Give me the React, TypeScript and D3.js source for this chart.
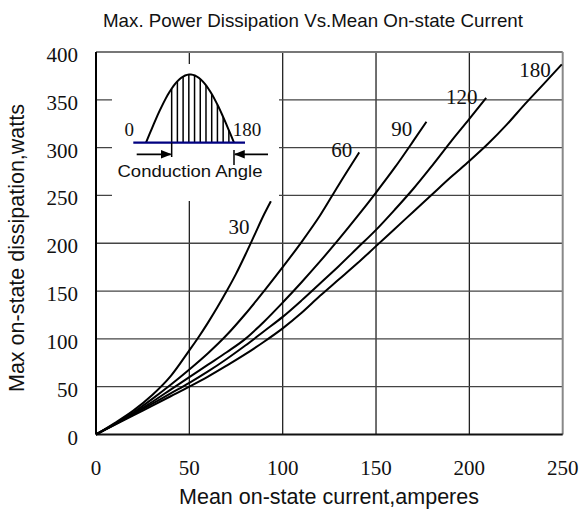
import React from "react";
import * as d3 from "d3";

const xTicks = [0, 50, 100, 150, 200, 250];
const yTicks = [0, 50, 100, 150, 200, 250, 300, 350, 400];

const seriesNames = ["30", "60", "90", "120", "180"];

const current30 = [0, 10, 20, 30, 40, 50, 55, 60, 65, 70, 75, 80, 85, 90, 93.7];
const power30 = [0, 12, 25, 41, 61, 88, 102, 117, 133, 150, 168, 188, 209, 230, 244];

const current60 = [0, 10, 20, 30, 40, 50, 60, 70, 80, 90, 100, 110, 120, 130, 141];
const power60 = [0, 11, 23, 37, 52, 68, 85, 104, 126, 150, 175, 201, 229, 261, 295];

const current90 = [0, 10, 20, 30, 40, 50, 60, 70, 80, 90, 100, 110, 120, 130, 140, 150, 160, 170, 177];
const power90 = [0, 10.5, 22, 34, 47, 60, 73, 86, 100, 118, 138, 159, 181, 204, 228, 253, 279, 307, 327];

const current120 = [0, 10, 20, 30, 40, 50, 60, 70, 80, 90, 100, 110, 120, 130, 140, 150, 160, 170, 180, 190, 200, 209];
const power120 = [0, 10.5, 21, 32, 43, 54, 66, 79, 93, 108, 123, 140, 158, 176, 195, 214, 235, 257, 281, 306, 330, 352];

const current180 = [0, 10, 20, 30, 40, 50, 60, 70, 80, 90, 100, 110, 120, 130, 140, 150, 160, 170, 180, 190, 200, 210, 220, 230, 240, 249.5];
const power180 = [0, 10, 20, 30, 40, 50, 60.5, 72, 84, 97, 111, 127, 145, 162, 179, 197, 215, 233, 251, 269, 286, 304, 324, 346, 367, 387];

// label centres in data units
const labelCurrent = [76.6, 131.6, 163.8, 195.9, 235.2];
const labelPower = [217, 298, 319, 353, 381];

// inset: half sine wave, angles in degrees
const waveAngles = d3.range(0, 181, 4);
const hatchAngles = [52.5, 64.2, 75.9, 87.6, 99.3, 111, 122.7, 134.4, 146.1, 157.8, 169.5];

const W = 580;
const H = 512;
const M = { left: 96, right: 17.3, top: 52, bottom: 77.5 };

export default function App() {
  const x = d3.scaleLinear().domain([0, 250]).range([M.left, W - M.right]);
  const y = d3.scaleLinear().domain([0, 400]).range([H - M.bottom, M.top]);

  const allX = [current30, current60, current90, current120, current180];
  const allY = [power30, power60, power90, power120, power180];
  const line = d3
    .line<[number, number]>()
    .x((d) => x(d[0]))
    .y((d) => y(d[1]))
    .curve(d3.curveMonotoneX);

  // inset scales
  const ax = d3.scaleLinear().domain([0, 180]).range([146, 234]);
  const ay = d3.scaleLinear().domain([0, 1]).range([142.7, 74.5]);
  const wave = d3
    .line<number>()
    .x((a) => ax(a))
    .y((a) => ay(Math.sin((a * Math.PI) / 180)));

  const serif = "'Liberation Serif', 'Times New Roman', serif";
  const sans = "'Liberation Sans', Arial, sans-serif";

  return (
    <svg width={W} height={H} style={{ position: "absolute", left: 0, top: 0, background: "#fff" }}>
      <defs>
        <marker id="arr" viewBox="0 0 10 10" refX="9" refY="5" markerWidth="6" markerHeight="6" orient="auto">
          <path d="M0,1 L10,5 L0,9 z" fill="#000" />
        </marker>
      </defs>
      <rect width={W} height={H} fill="#fff" />
      <text x={313} y={26.5} textAnchor="middle" fontFamily={sans} fontSize={19} textLength={420} lengthAdjust="spacingAndGlyphs" fill="#111">
        Max. Power Dissipation Vs.Mean On-state Current
      </text>

      {/* grid */}
      {xTicks.slice(1, -1).map((t) => (
        <line key={"gx" + t} x1={x(t)} x2={x(t)} y1={y(0)} y2={y(400)} stroke="#222" strokeWidth={1.3} />
      ))}
      {yTicks.slice(1, -1).map((t) => (
        <line key={"gy" + t} x1={x(0)} x2={x(250)} y1={y(t)} y2={y(t)} stroke="#444" strokeWidth={1.3} />
      ))}

      {/* frame */}
      <line x1={x(0)} x2={x(250)} y1={y(400)} y2={y(400)} stroke="#777" strokeWidth={2} />
      <line x1={x(250)} x2={x(250)} y1={y(0)} y2={y(400)} stroke="#888" strokeWidth={2} />
      <line x1={x(0)} x2={x(0)} y1={y(0)} y2={y(400)} stroke="#000" strokeWidth={2} />
      <line x1={x(0)} x2={x(250)} y1={y(0)} y2={y(0)} stroke="#111" strokeWidth={2.2} />

      {/* tick labels */}
      {xTicks.map((t) => (
        <text key={"xt" + t} x={x(t)} y={y(0) + 40} textAnchor="middle" fontFamily={serif} fontSize={21} fill="#111">
          {t}
        </text>
      ))}
      {yTicks.map((t) => (
        <text key={"yt" + t} x={78} y={y(t) + 10} textAnchor="end" fontFamily={serif} fontSize={21} fill="#111">
          {t}
        </text>
      ))}

      {/* curves */}
      {seriesNames.map((name, i) => {
        const pts = allX[i].map((v, j) => [v, allY[i][j]] as [number, number]);
        return <path key={"c" + name} d={line(pts) || ""} fill="none" stroke="#000" strokeWidth={2} />;
      })}
      {seriesNames.map((name, i) => (
        <text key={"l" + name} x={x(labelCurrent[i])} y={y(labelPower[i]) + 7} textAnchor="middle" fontFamily={serif} fontSize={21} fill="#111">
          {name}
        </text>
      ))}

      {/* inset */}
      <rect x={112} y={64} width={167} height={137} fill="#fff" />
      {hatchAngles.map((a) => (
        <line key={"h" + a} x1={ax(a)} x2={ax(a)} y1={ay(0)} y2={ay(Math.sin((a * Math.PI) / 180))} stroke="#000" strokeWidth={1.5} />
      ))}
      <path d={wave(waveAngles) || ""} fill="none" stroke="#000" strokeWidth={2} />
      <line x1={133.3} x2={245} y1={ay(0)} y2={ay(0)} stroke="#000080" strokeWidth={2.2} />
      <line x1={ax(hatchAngles[0])} x2={ax(hatchAngles[0])} y1={ay(0)} y2={157} stroke="#000" strokeWidth={1.5} />
      <line x1={ax(180)} x2={ax(180)} y1={150} y2={165} stroke="#000" strokeWidth={1.5} />
      <line x1={136.7} x2={ax(hatchAngles[0]) - 1} y1={154.3} y2={154.3} stroke="#000" strokeWidth={1.8} markerEnd="url(#arr)" />
      <line x1={268} x2={ax(180) + 1} y1={154.3} y2={154.3} stroke="#000" strokeWidth={1.8} markerEnd="url(#arr)" />
      <text x={129.3} y={136} textAnchor="middle" fontFamily={serif} fontSize={19} fill="#111">0</text>
      <text x={247} y={136} textAnchor="middle" fontFamily={serif} fontSize={19} fill="#111">180</text>
      <text x={190} y={177} textAnchor="middle" fontFamily={sans} fontSize={16.5} textLength={145} lengthAdjust="spacingAndGlyphs" fill="#111">
        Conduction Angle
      </text>

      {/* axis titles */}
      <text x={329} y={504} textAnchor="middle" fontFamily={sans} fontSize={21.5} fill="#111">
        Mean on-state current,amperes
      </text>
      <text transform={`translate(24,248) rotate(-90)`} textAnchor="middle" fontFamily={sans} fontSize={21.5} fill="#111">
        Max on-state dissipation,watts
      </text>
    </svg>
  );
}
